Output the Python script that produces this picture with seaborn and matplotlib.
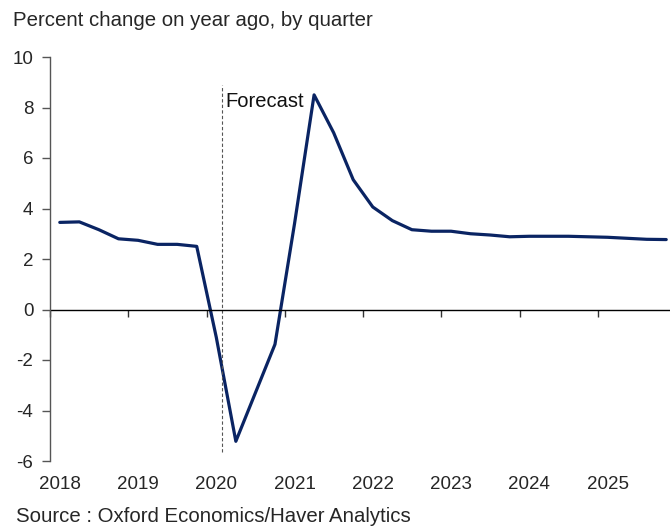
import numpy as np
import pandas as pd
import matplotlib
matplotlib.use("Agg")
import matplotlib.pyplot as plt
import seaborn as sns

# Quarterly data, 2018Q1 - 2025Q4 (percent change on year ago)
years = list(range(2018, 2026))
quarters = [y + q / 4 for y in years for q in range(4)]
values = [3.45, 3.47, 3.16, 2.80,
          2.74, 2.58, 2.58, 2.50,
          -1.10, -5.22, -3.30, -1.38,
          3.40, 8.50, 7.00, 5.14,
          4.06, 3.52, 3.16, 3.10,
          3.10, 3.00, 2.95, 2.88,
          2.90, 2.90, 2.90, 2.88,
          2.86, 2.82, 2.78, 2.77]
forecast_start = 2020.07
y_ticks = [-6, -4, -2, 0, 2, 4, 6, 8, 10]

df = pd.DataFrame({"quarter": quarters, "value": values})

sns.set_style("white")
plt.rcParams["font.family"] = ["Liberation Sans", "DejaVu Sans"]

W, H = 670, 529
fig = plt.figure(figsize=(W / 100, H / 100), dpi=100)
# plot area: left 50px, y from 57 to 461 px, 19.57 px per quarter
ax = fig.add_axes([50 / W, 68 / H, 626 / W, 404 / H])

sns.lineplot(data=df, x="quarter", y="value", ax=ax, color="#0a2463",
             linewidth=2.3, legend=False)

ax.set_xlim(years[0] - 0.125, years[-1] + 0.875)
ax.set_ylim(y_ticks[0], y_ticks[-1])

# forecast marker
ax.plot([forecast_start, forecast_start], [-5.65, 8.9], color="#555555",
        linestyle=(0, (3, 2)), linewidth=0.8)
ax.text(forecast_start + 0.04, 8.25, "Forecast", fontsize=14.5,
        va="center", ha="left", color="#111111")

# zero line with boundary ticks
ax.axhline(0, color="black", linewidth=1.0)
sec = ax.secondary_xaxis(6 / 16)
sec.set_xticks([y - 0.125 for y in years])
sec.set_xticklabels([])
sec.tick_params(axis="x", length=5, width=1, color="#333333", direction="out")
sec.spines["bottom"].set_visible(False)

# year labels at Q1 positions
ax.set_xticks(years)
ax.set_xticklabels([str(y) for y in years])
ax.tick_params(axis="x", length=0, pad=11, labelsize=13.5)

ax.set_yticks(y_ticks)
ax.set_yticklabels([str(v) for v in y_ticks])
ax.tick_params(axis="y", length=6, width=1, color="#555555", direction="out",
               pad=6, labelsize=13.5, left=True)

ax.set_xlabel("")
ax.set_ylabel("")
for side in ["top", "right", "bottom"]:
    ax.spines[side].set_visible(False)
ax.spines["left"].set_color("#555555")
ax.spines["left"].set_linewidth(1.0)

fig.text(13 / W, 1 - 20 / H, "Percent change on year ago, by quarter",
         fontsize=14.7, va="center", ha="left")
fig.text(16 / W, 1 - 516 / H, "Source : Oxford Economics/Haver Analytics",
         fontsize=14.7, va="center", ha="left")

fig.savefig("out.png", dpi=100)
